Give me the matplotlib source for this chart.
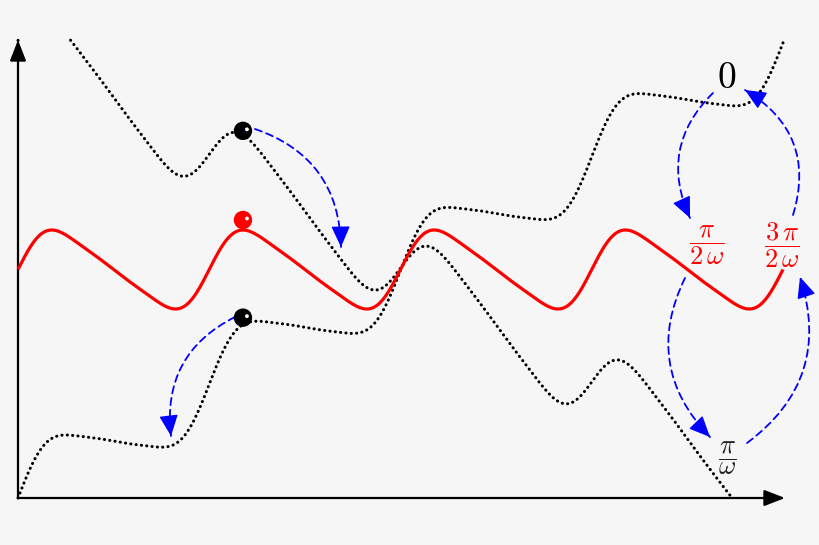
import numpy as np
import matplotlib
matplotlib.use("Agg")
import matplotlib.pyplot as plt
from matplotlib.patches import FancyArrowPatch, Circle

plt.rcParams['mathtext.fontset'] = 'cm'

# Ratchet potential sketch, units are pixels measured from the axis origin
period = 191.25          # spatial period of the potential
harmonics = [1.0, 0.25, 0.05]   # Fourier weights of the asymmetric potential
amplitude = 39.5         # half height of the untilted potential
red_level = 228.5        # height of the untilted potential above the x axis
tilt = 0.595             # slope added / removed by the driving force
upper_offset = 229.0     # extra height of the downhill-tilted curve
x_end = 765.0            # end of the drawing range
y_top = 458.0            # curves are cut at this height
ball_cell = 1            # balls sit on the maximum of the second cell


def raw(th):
    return sum(w * np.sin((n + 1) * th) for n, w in enumerate(harmonics))


grid = np.linspace(0, 2 * np.pi, 6000)
norm = np.max(raw(grid))
peak_frac = grid[np.argmax(raw(grid))] / (2 * np.pi)


def shape(xx):
    return raw(2 * np.pi * np.asarray(xx) / period) / norm


x = np.linspace(0, x_end, 3000)
red = red_level + amplitude * shape(x)
uphill = amplitude * shape(x) + tilt * x
downhill = red + upper_offset - tilt * x

# cut the tilted curves at the top of the frame and at the x axis
uphill = np.where(uphill <= y_top, uphill, np.nan)
downhill = np.where(downhill <= y_top, downhill, np.nan)
first_neg = np.argmax(np.nan_to_num(downhill, nan=1.0) < 0)
downhill[first_neg:] = np.nan

x_ball = (ball_cell + peak_frac) * period

fig = plt.figure(figsize=(8.2, 5.45), dpi=100)
fig.patch.set_facecolor("#f6f6f6")
ax = fig.add_axes([0, 0, 1, 1])
ax.set_facecolor("#f6f6f6")
ax.set_xlim(-18, 802)
ax.set_ylim(-47, 498)
ax.axis("off")

# axes with arrow heads
for tip in [(767, 0), (0, 458)]:
    ax.add_patch(FancyArrowPatch((0, 0), tip, arrowstyle="-|>,head_length=0.9,head_width=0.35",
                                 mutation_scale=14, color="black", lw=1.6, shrinkA=0, shrinkB=0, zorder=2))

dot_style = dict(color="black", lw=2.2, linestyle=(0, (0.05, 1.7)), dash_capstyle="round", zorder=3)
ax.plot(x, uphill, **dot_style)
ax.plot(x, downhill, **dot_style)
ax.plot(x, red, color="red", lw=2.3, zorder=4, solid_capstyle="butt")

# balls
r_ball = 8.5
balls = [
    (red_level + amplitude * shape(x_ball) + 10, "red"),
    (red_level + amplitude * shape(x_ball) + upper_offset - tilt * x_ball + 4, "black"),
    (amplitude * shape(x_ball) + tilt * x_ball + 7, "black"),
]
for yb, col in balls:
    ax.add_patch(Circle((x_ball, yb), r_ball, color=col, zorder=6))
    ax.add_patch(Circle((x_ball + 4, yb + 1.5), 1.2, color="white", zorder=7))

# blue dashed transition arrows: dashed arc plus a solid head along the end tangent
arrows = [
    ((237, 369), (323, 251), -0.35),
    ((217, 181), (153, 62), 0.35),
    ((695, 405), (672, 280), 0.35),
    ((667, 220), (692, 61), 0.35),
    ((729, 55), (782, 221), 0.36),
    ((775, 283), (727, 408), 0.39),
]
for start, end, rad in arrows:
    ax.add_patch(FancyArrowPatch(start, end, connectionstyle=f"arc3,rad={rad}", arrowstyle="-",
                                 color="blue", lw=1.3, linestyle=(0, (4, 2.6)),
                                 shrinkA=0, shrinkB=0, zorder=5))
    sx, sy = start
    ex, ey = end
    cx = (sx + ex) / 2 + rad * (ey - sy)
    cy = (sy + ey) / 2 - rad * (ex - sx)
    tx, ty = ex - cx, ey - cy
    ln = np.hypot(tx, ty)
    back = (ex - 6 * tx / ln, ey - 6 * ty / ln)
    ax.add_patch(FancyArrowPatch(back, end, arrowstyle="-|>,head_length=1.0,head_width=0.45",
                                 mutation_scale=13, color="blue", lw=1.0,
                                 shrinkA=0, shrinkB=0, zorder=5))

ax.text(709, 420, r"$0$", fontsize=27, ha="center", va="center", color="black")
ax.text(689, 253, r"$\dfrac{\pi}{2\,\omega}$", fontsize=19, ha="center", va="center", color="red")
ax.text(764, 253, r"$\dfrac{3\,\pi}{2\,\omega}$", fontsize=19, ha="center", va="center", color="red")
ax.text(709, 40, r"$\dfrac{\pi}{\omega}$", fontsize=19, ha="center", va="center", color="#222222")

fig.savefig("out.png", dpi=100, facecolor=fig.get_facecolor())
